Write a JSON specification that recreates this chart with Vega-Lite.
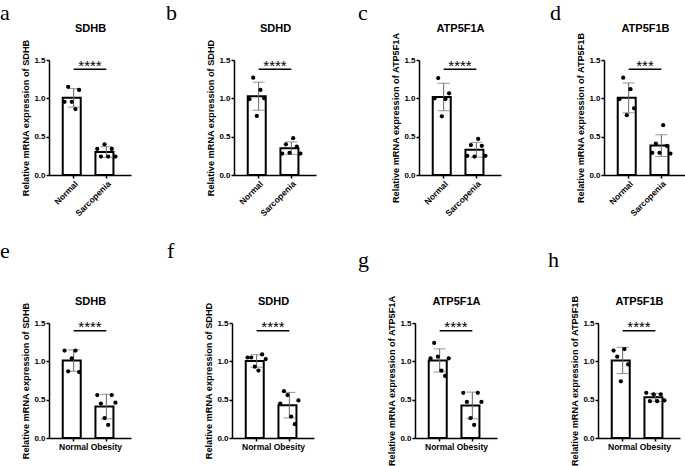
{
  "$schema": "https://vega.github.io/schema/vega-lite/v6.json",
  "padding": {"left": 0, "top": 2, "right": 0, "bottom": 0},
  "datasets": {
    "pts": [
      {"panel":"a","group":"Normal","rep":1,"value":0.955},
      {"panel":"a","group":"Normal","rep":2,"value":1.15},
      {"panel":"a","group":"Normal","rep":3,"value":0.955},
      {"panel":"a","group":"Normal","rep":4,"value":0.86},
      {"panel":"a","group":"Normal","rep":5,"value":1.11},
      {"panel":"a","group":"Sarcopenia","rep":1,"value":0.34},
      {"panel":"a","group":"Sarcopenia","rep":2,"value":0.24},
      {"panel":"a","group":"Sarcopenia","rep":3,"value":0.40},
      {"panel":"a","group":"Sarcopenia","rep":4,"value":0.24},
      {"panel":"a","group":"Sarcopenia","rep":5,"value":0.34},
      {"panel":"a","group":"Sarcopenia","rep":6,"value":0.24},
      {"panel":"b","group":"Normal","rep":1,"value":0.99},
      {"panel":"b","group":"Normal","rep":2,"value":1.27},
      {"panel":"b","group":"Normal","rep":3,"value":0.77},
      {"panel":"b","group":"Normal","rep":4,"value":1.11},
      {"panel":"b","group":"Normal","rep":5,"value":1.0},
      {"panel":"b","group":"Sarcopenia","rep":1,"value":0.28},
      {"panel":"b","group":"Sarcopenia","rep":2,"value":0.40},
      {"panel":"b","group":"Sarcopenia","rep":3,"value":0.29},
      {"panel":"b","group":"Sarcopenia","rep":4,"value":0.48},
      {"panel":"b","group":"Sarcopenia","rep":5,"value":0.37},
      {"panel":"b","group":"Sarcopenia","rep":6,"value":0.28},
      {"panel":"c","group":"Normal","rep":1,"value":1.0},
      {"panel":"c","group":"Normal","rep":2,"value":1.265},
      {"panel":"c","group":"Normal","rep":3,"value":0.765},
      {"panel":"c","group":"Normal","rep":4,"value":0.99},
      {"panel":"c","group":"Normal","rep":5,"value":1.065},
      {"panel":"c","group":"Sarcopenia","rep":1,"value":0.25},
      {"panel":"c","group":"Sarcopenia","rep":2,"value":0.39},
      {"panel":"c","group":"Sarcopenia","rep":3,"value":0.24},
      {"panel":"c","group":"Sarcopenia","rep":4,"value":0.47},
      {"panel":"c","group":"Sarcopenia","rep":5,"value":0.38},
      {"panel":"c","group":"Sarcopenia","rep":6,"value":0.25},
      {"panel":"d","group":"Normal","rep":1,"value":0.99},
      {"panel":"d","group":"Normal","rep":2,"value":1.27},
      {"panel":"d","group":"Normal","rep":3,"value":0.78},
      {"panel":"d","group":"Normal","rep":4,"value":1.12},
      {"panel":"d","group":"Normal","rep":5,"value":0.87},
      {"panel":"d","group":"Sarcopenia","rep":1,"value":0.29},
      {"panel":"d","group":"Sarcopenia","rep":2,"value":0.41},
      {"panel":"d","group":"Sarcopenia","rep":3,"value":0.29},
      {"panel":"d","group":"Sarcopenia","rep":4,"value":0.65},
      {"panel":"d","group":"Sarcopenia","rep":5,"value":0.38},
      {"panel":"d","group":"Sarcopenia","rep":6,"value":0.28},
      {"panel":"e","group":"Normal","rep":1,"value":1.14},
      {"panel":"e","group":"Normal","rep":2,"value":0.87},
      {"panel":"e","group":"Normal","rep":3,"value":1.04},
      {"panel":"e","group":"Normal","rep":4,"value":1.14},
      {"panel":"e","group":"Normal","rep":5,"value":0.86},
      {"panel":"e","group":"Obesity","rep":1,"value":0.56},
      {"panel":"e","group":"Obesity","rep":2,"value":0.45},
      {"panel":"e","group":"Obesity","rep":3,"value":0.26},
      {"panel":"e","group":"Obesity","rep":4,"value":0.17},
      {"panel":"e","group":"Obesity","rep":5,"value":0.56},
      {"panel":"e","group":"Obesity","rep":6,"value":0.46},
      {"panel":"f","group":"Normal","rep":1,"value":1.05},
      {"panel":"f","group":"Normal","rep":2,"value":1.05},
      {"panel":"f","group":"Normal","rep":3,"value":0.93},
      {"panel":"f","group":"Normal","rep":4,"value":0.88},
      {"panel":"f","group":"Normal","rep":5,"value":1.09},
      {"panel":"f","group":"Normal","rep":6,"value":1.03},
      {"panel":"f","group":"Obesity","rep":1,"value":0.45},
      {"panel":"f","group":"Obesity","rep":2,"value":0.61},
      {"panel":"f","group":"Obesity","rep":3,"value":0.56},
      {"panel":"f","group":"Obesity","rep":4,"value":0.28},
      {"panel":"f","group":"Obesity","rep":5,"value":0.18},
      {"panel":"f","group":"Obesity","rep":6,"value":0.49},
      {"panel":"g","group":"Normal","rep":1,"value":1.04},
      {"panel":"g","group":"Normal","rep":2,"value":1.24},
      {"panel":"g","group":"Normal","rep":3,"value":1.06},
      {"panel":"g","group":"Normal","rep":4,"value":0.88},
      {"panel":"g","group":"Normal","rep":5,"value":0.81},
      {"panel":"g","group":"Normal","rep":6,"value":1.04},
      {"panel":"g","group":"Obesity","rep":1,"value":0.59},
      {"panel":"g","group":"Obesity","rep":2,"value":0.47},
      {"panel":"g","group":"Obesity","rep":3,"value":0.26},
      {"panel":"g","group":"Obesity","rep":4,"value":0.17},
      {"panel":"g","group":"Obesity","rep":5,"value":0.59},
      {"panel":"g","group":"Obesity","rep":6,"value":0.47},
      {"panel":"h","group":"Normal","rep":1,"value":1.14},
      {"panel":"h","group":"Normal","rep":2,"value":1.06},
      {"panel":"h","group":"Normal","rep":3,"value":0.74},
      {"panel":"h","group":"Normal","rep":4,"value":1.16},
      {"panel":"h","group":"Normal","rep":5,"value":0.96},
      {"panel":"h","group":"Obesity","rep":1,"value":0.59},
      {"panel":"h","group":"Obesity","rep":2,"value":0.48},
      {"panel":"h","group":"Obesity","rep":3,"value":0.57},
      {"panel":"h","group":"Obesity","rep":4,"value":0.48},
      {"panel":"h","group":"Obesity","rep":5,"value":0.57},
      {"panel":"h","group":"Obesity","rep":6,"value":0.49}
    ]
  },
  "config": {
    "view": {"stroke": null},
    "font": "Liberation Sans",
    "axis": {"domainColor": "black", "domainWidth": 1.5, "tickColor": "black", "tickWidth": 1.5, "tickSize": 3, "labelFont": "Liberation Sans", "labelFontSize": 8, "labelFontWeight": "bold", "labelColor": "black", "titleFont": "Liberation Sans", "titleFontSize": 9.2, "titleFontWeight": "bold", "titleColor": "black", "grid": false, "labelPadding": 1, "titlePadding": 3},
    "axisY": {"tickCount": 8},
    "axisX": {"labelFontSize": 8.5},
    "title": {"font": "Liberation Serif", "fontSize": 22, "fontWeight": "normal", "color": "black", "anchor": "start", "frame": "group", "baseline": "alphabetic"}
  },
  "bounds": "flush",
  "spacing": 263,
  "vconcat": [
    {"bounds": "flush", "spacing": 103, "hconcat": [
      {"width": 82, "height": 115, "title": {"text": "a", "dx": -49, "offset": -3},
       "data": {"name": "pts"}, "transform": [{"filter": "datum.panel === 'a'"}],
       "resolve": {"axis": {"x": "independent"}},
       "layer": [
         {"mark": {"type": "bar", "fill": "white", "stroke": "black", "strokeWidth": 2}, "encoding": {"x": {"field": "group", "type": "nominal", "scale": {"domain": ["Normal", "Sarcopenia"], "paddingInner": 0.333, "paddingOuter": 0.42}, "axis": {"title": null, "labelAngle": -45}}, "y": {"aggregate": "mean", "field": "value", "type": "quantitative", "title": "Relative mRNA expression of SDHB", "scale": {"domain": [0, 1.5], "nice": false}, "axis": {"values": [0, 0.5, 1, 1.5], "format": ".1f", "tickCount": 8}}}},
         {"mark": {"type": "errorbar", "extent": "stdev", "ticks": {"size": 12}, "color": "#666"}, "encoding": {"x": {"field": "group", "type": "nominal", "axis": null}, "y": {"field": "value", "type": "quantitative", "title": "Relative mRNA expression of SDHB", "axis": {"values": [0, 0.5, 1, 1.5], "format": ".1f", "tickCount": 8}}}},
         {"mark": {"type": "circle", "size": 18, "color": "black", "opacity": 1}, "encoding": {"x": {"field": "group", "type": "nominal", "axis": {"orient": "top", "title": "SDHB", "labels": false, "ticks": false, "domain": false, "titlePadding": 27, "titleFontSize": 11}}, "xOffset": {"field": "rep", "type": "nominal", "scale": {"domain": [1, 2, 3, 4, 5, 6]}}, "y": {"field": "value", "type": "quantitative", "title": "Relative mRNA expression of SDHB", "axis": {"values": [0, 0.5, 1, 1.5], "format": ".1f", "tickCount": 8}}}},
         {"data": {"values": [{}]}, "mark": {"type": "rule", "strokeWidth": 1.5, "color": "black"}, "encoding": {"x": {"datum": "Normal", "axis": null}, "x2": {"datum": "Sarcopenia"}, "y": {"datum": 1.38}}},
         {"data": {"values": [{}]}, "mark": {"type": "text", "text": "****", "fontSize": 15, "baseline": "alphabetic"}, "encoding": {"x": {"datum": "Normal", "bandPosition": 1.25, "axis": null}, "y": {"datum": 1.36}}}
       ]},
      {"width": 82, "height": 115, "title": {"text": "b", "dx": -68, "offset": -3},
       "data": {"name": "pts"}, "transform": [{"filter": "datum.panel === 'b'"}],
       "resolve": {"axis": {"x": "independent"}},
       "layer": [
         {"mark": {"type": "bar", "fill": "white", "stroke": "black", "strokeWidth": 2}, "encoding": {"x": {"field": "group", "type": "nominal", "scale": {"domain": ["Normal", "Sarcopenia"], "paddingInner": 0.333, "paddingOuter": 0.42}, "axis": {"title": null, "labelAngle": -45}}, "y": {"aggregate": "mean", "field": "value", "type": "quantitative", "title": "Relative mRNA expression of SDHD", "scale": {"domain": [0, 1.5], "nice": false}, "axis": {"values": [0, 0.5, 1, 1.5], "format": ".1f", "tickCount": 8}}}},
         {"mark": {"type": "errorbar", "extent": "stdev", "ticks": {"size": 12}, "color": "#666"}, "encoding": {"x": {"field": "group", "type": "nominal", "axis": null}, "y": {"field": "value", "type": "quantitative", "title": "Relative mRNA expression of SDHD", "axis": {"values": [0, 0.5, 1, 1.5], "format": ".1f", "tickCount": 8}}}},
         {"mark": {"type": "circle", "size": 18, "color": "black", "opacity": 1}, "encoding": {"x": {"field": "group", "type": "nominal", "axis": {"orient": "top", "title": "SDHD", "labels": false, "ticks": false, "domain": false, "titlePadding": 27, "titleFontSize": 11}}, "xOffset": {"field": "rep", "type": "nominal", "scale": {"domain": [1, 2, 3, 4, 5, 6]}}, "y": {"field": "value", "type": "quantitative", "title": "Relative mRNA expression of SDHD", "axis": {"values": [0, 0.5, 1, 1.5], "format": ".1f", "tickCount": 8}}}},
         {"data": {"values": [{}]}, "mark": {"type": "rule", "strokeWidth": 1.5, "color": "black"}, "encoding": {"x": {"datum": "Normal", "axis": null}, "x2": {"datum": "Sarcopenia"}, "y": {"datum": 1.38}}},
         {"data": {"values": [{}]}, "mark": {"type": "text", "text": "****", "fontSize": 15, "baseline": "alphabetic"}, "encoding": {"x": {"datum": "Normal", "bandPosition": 1.25, "axis": null}, "y": {"datum": 1.36}}}
       ]},
      {"width": 82, "height": 115, "title": {"text": "c", "dx": -61, "offset": -3},
       "data": {"name": "pts"}, "transform": [{"filter": "datum.panel === 'c'"}],
       "resolve": {"axis": {"x": "independent"}},
       "layer": [
         {"mark": {"type": "bar", "fill": "white", "stroke": "black", "strokeWidth": 2}, "encoding": {"x": {"field": "group", "type": "nominal", "scale": {"domain": ["Normal", "Sarcopenia"], "paddingInner": 0.333, "paddingOuter": 0.42}, "axis": {"title": null, "labelAngle": -45}}, "y": {"aggregate": "mean", "field": "value", "type": "quantitative", "title": "Relative mRNA expression of ATP5F1A", "scale": {"domain": [0, 1.5], "nice": false}, "axis": {"values": [0, 0.5, 1, 1.5], "format": ".1f", "tickCount": 8}}}},
         {"mark": {"type": "errorbar", "extent": "stdev", "ticks": {"size": 12}, "color": "#666"}, "encoding": {"x": {"field": "group", "type": "nominal", "axis": null}, "y": {"field": "value", "type": "quantitative", "title": "Relative mRNA expression of ATP5F1A", "axis": {"values": [0, 0.5, 1, 1.5], "format": ".1f", "tickCount": 8}}}},
         {"mark": {"type": "circle", "size": 18, "color": "black", "opacity": 1}, "encoding": {"x": {"field": "group", "type": "nominal", "axis": {"orient": "top", "title": "ATP5F1A", "labels": false, "ticks": false, "domain": false, "titlePadding": 27, "titleFontSize": 11}}, "xOffset": {"field": "rep", "type": "nominal", "scale": {"domain": [1, 2, 3, 4, 5, 6]}}, "y": {"field": "value", "type": "quantitative", "title": "Relative mRNA expression of ATP5F1A", "axis": {"values": [0, 0.5, 1, 1.5], "format": ".1f", "tickCount": 8}}}},
         {"data": {"values": [{}]}, "mark": {"type": "rule", "strokeWidth": 1.5, "color": "black"}, "encoding": {"x": {"datum": "Normal", "axis": null}, "x2": {"datum": "Sarcopenia"}, "y": {"datum": 1.38}}},
         {"data": {"values": [{}]}, "mark": {"type": "text", "text": "****", "fontSize": 15, "baseline": "alphabetic"}, "encoding": {"x": {"datum": "Normal", "bandPosition": 1.25, "axis": null}, "y": {"datum": 1.36}}}
       ]},
      {"width": 82, "height": 115, "title": {"text": "d", "dx": -54, "offset": -3},
       "data": {"name": "pts"}, "transform": [{"filter": "datum.panel === 'd'"}],
       "resolve": {"axis": {"x": "independent"}},
       "layer": [
         {"mark": {"type": "bar", "fill": "white", "stroke": "black", "strokeWidth": 2}, "encoding": {"x": {"field": "group", "type": "nominal", "scale": {"domain": ["Normal", "Sarcopenia"], "paddingInner": 0.333, "paddingOuter": 0.42}, "axis": {"title": null, "labelAngle": -45}}, "y": {"aggregate": "mean", "field": "value", "type": "quantitative", "title": "Relative mRNA expression of ATP5F1B", "scale": {"domain": [0, 1.5], "nice": false}, "axis": {"values": [0, 0.5, 1, 1.5], "format": ".1f", "tickCount": 8}}}},
         {"mark": {"type": "errorbar", "extent": "stdev", "ticks": {"size": 12}, "color": "#666"}, "encoding": {"x": {"field": "group", "type": "nominal", "axis": null}, "y": {"field": "value", "type": "quantitative", "title": "Relative mRNA expression of ATP5F1B", "axis": {"values": [0, 0.5, 1, 1.5], "format": ".1f", "tickCount": 8}}}},
         {"mark": {"type": "circle", "size": 18, "color": "black", "opacity": 1}, "encoding": {"x": {"field": "group", "type": "nominal", "axis": {"orient": "top", "title": "ATP5F1B", "labels": false, "ticks": false, "domain": false, "titlePadding": 27, "titleFontSize": 11}}, "xOffset": {"field": "rep", "type": "nominal", "scale": {"domain": [1, 2, 3, 4, 5, 6]}}, "y": {"field": "value", "type": "quantitative", "title": "Relative mRNA expression of ATP5F1B", "axis": {"values": [0, 0.5, 1, 1.5], "format": ".1f", "tickCount": 8}}}},
         {"data": {"values": [{}]}, "mark": {"type": "rule", "strokeWidth": 1.5, "color": "black"}, "encoding": {"x": {"datum": "Normal", "axis": null}, "x2": {"datum": "Sarcopenia"}, "y": {"datum": 1.38}}},
         {"data": {"values": [{}]}, "mark": {"type": "text", "text": "***", "fontSize": 15, "baseline": "alphabetic"}, "encoding": {"x": {"datum": "Normal", "bandPosition": 1.25, "axis": null}, "y": {"datum": 1.36}}}
       ]}
    ]},
    {"bounds": "flush", "spacing": 101, "hconcat": [
      {"width": 82, "height": 115, "title": {"text": "e", "dx": -49, "offset": 32},
       "data": {"name": "pts"}, "transform": [{"filter": "datum.panel === 'e'"}],
       "resolve": {"axis": {"x": "independent"}},
       "layer": [
         {"mark": {"type": "bar", "fill": "white", "stroke": "black", "strokeWidth": 2}, "encoding": {"x": {"field": "group", "type": "nominal", "scale": {"domain": ["Normal", "Obesity"], "paddingInner": 0.333, "paddingOuter": 0.42}, "axis": {"title": null, "labelAngle": 0}}, "y": {"aggregate": "mean", "field": "value", "type": "quantitative", "title": "Relative mRNA expression of SDHB", "scale": {"domain": [0, 1.5], "nice": false}, "axis": {"values": [0, 0.5, 1, 1.5], "format": ".1f", "tickCount": 8}}}},
         {"mark": {"type": "errorbar", "extent": "stdev", "ticks": {"size": 12}, "color": "#666"}, "encoding": {"x": {"field": "group", "type": "nominal", "axis": null}, "y": {"field": "value", "type": "quantitative", "title": "Relative mRNA expression of SDHB", "axis": {"values": [0, 0.5, 1, 1.5], "format": ".1f", "tickCount": 8}}}},
         {"mark": {"type": "circle", "size": 18, "color": "black", "opacity": 1}, "encoding": {"x": {"field": "group", "type": "nominal", "axis": {"orient": "top", "title": "SDHB", "labels": false, "ticks": false, "domain": false, "titlePadding": 17, "titleFontSize": 11}}, "xOffset": {"field": "rep", "type": "nominal", "scale": {"domain": [1, 2, 3, 4, 5, 6]}}, "y": {"field": "value", "type": "quantitative", "title": "Relative mRNA expression of SDHB", "axis": {"values": [0, 0.5, 1, 1.5], "format": ".1f", "tickCount": 8}}}},
         {"data": {"values": [{}]}, "mark": {"type": "rule", "strokeWidth": 1.5, "color": "black"}, "encoding": {"x": {"datum": "Normal", "axis": null}, "x2": {"datum": "Obesity"}, "y": {"datum": 1.4}}},
         {"data": {"values": [{}]}, "mark": {"type": "text", "text": "****", "fontSize": 15, "baseline": "alphabetic"}, "encoding": {"x": {"datum": "Normal", "bandPosition": 1.25, "axis": null}, "y": {"datum": 1.38}}}
       ]},
      {"width": 82, "height": 115, "title": {"text": "f", "dx": -65, "offset": 32},
       "data": {"name": "pts"}, "transform": [{"filter": "datum.panel === 'f'"}],
       "resolve": {"axis": {"x": "independent"}},
       "layer": [
         {"mark": {"type": "bar", "fill": "white", "stroke": "black", "strokeWidth": 2}, "encoding": {"x": {"field": "group", "type": "nominal", "scale": {"domain": ["Normal", "Obesity"], "paddingInner": 0.333, "paddingOuter": 0.42}, "axis": {"title": null, "labelAngle": 0}}, "y": {"aggregate": "mean", "field": "value", "type": "quantitative", "title": "Relative mRNA expression of SDHD", "scale": {"domain": [0, 1.5], "nice": false}, "axis": {"values": [0, 0.5, 1, 1.5], "format": ".1f", "tickCount": 8}}}},
         {"mark": {"type": "errorbar", "extent": "stdev", "ticks": {"size": 12}, "color": "#666"}, "encoding": {"x": {"field": "group", "type": "nominal", "axis": null}, "y": {"field": "value", "type": "quantitative", "title": "Relative mRNA expression of SDHD", "axis": {"values": [0, 0.5, 1, 1.5], "format": ".1f", "tickCount": 8}}}},
         {"mark": {"type": "circle", "size": 18, "color": "black", "opacity": 1}, "encoding": {"x": {"field": "group", "type": "nominal", "axis": {"orient": "top", "title": "SDHD", "labels": false, "ticks": false, "domain": false, "titlePadding": 17, "titleFontSize": 11}}, "xOffset": {"field": "rep", "type": "nominal", "scale": {"domain": [1, 2, 3, 4, 5, 6]}}, "y": {"field": "value", "type": "quantitative", "title": "Relative mRNA expression of SDHD", "axis": {"values": [0, 0.5, 1, 1.5], "format": ".1f", "tickCount": 8}}}},
         {"data": {"values": [{}]}, "mark": {"type": "rule", "strokeWidth": 1.5, "color": "black"}, "encoding": {"x": {"datum": "Normal", "axis": null}, "x2": {"datum": "Obesity"}, "y": {"datum": 1.4}}},
         {"data": {"values": [{}]}, "mark": {"type": "text", "text": "****", "fontSize": 15, "baseline": "alphabetic"}, "encoding": {"x": {"datum": "Normal", "bandPosition": 1.25, "axis": null}, "y": {"datum": 1.38}}}
       ]},
      {"width": 82, "height": 115, "title": {"text": "g", "dx": -57, "offset": 23},
       "data": {"name": "pts"}, "transform": [{"filter": "datum.panel === 'g'"}],
       "resolve": {"axis": {"x": "independent"}},
       "layer": [
         {"mark": {"type": "bar", "fill": "white", "stroke": "black", "strokeWidth": 2}, "encoding": {"x": {"field": "group", "type": "nominal", "scale": {"domain": ["Normal", "Obesity"], "paddingInner": 0.333, "paddingOuter": 0.42}, "axis": {"title": null, "labelAngle": 0}}, "y": {"aggregate": "mean", "field": "value", "type": "quantitative", "title": "Relative mRNA expression of ATP5F1A", "scale": {"domain": [0, 1.5], "nice": false}, "axis": {"values": [0, 0.5, 1, 1.5], "format": ".1f", "tickCount": 8}}}},
         {"mark": {"type": "errorbar", "extent": "stdev", "ticks": {"size": 12}, "color": "#666"}, "encoding": {"x": {"field": "group", "type": "nominal", "axis": null}, "y": {"field": "value", "type": "quantitative", "title": "Relative mRNA expression of ATP5F1A", "axis": {"values": [0, 0.5, 1, 1.5], "format": ".1f", "tickCount": 8}}}},
         {"mark": {"type": "circle", "size": 18, "color": "black", "opacity": 1}, "encoding": {"x": {"field": "group", "type": "nominal", "axis": {"orient": "top", "title": "ATP5F1A", "labels": false, "ticks": false, "domain": false, "titlePadding": 17, "titleFontSize": 11}}, "xOffset": {"field": "rep", "type": "nominal", "scale": {"domain": [1, 2, 3, 4, 5, 6]}}, "y": {"field": "value", "type": "quantitative", "title": "Relative mRNA expression of ATP5F1A", "axis": {"values": [0, 0.5, 1, 1.5], "format": ".1f", "tickCount": 8}}}},
         {"data": {"values": [{}]}, "mark": {"type": "rule", "strokeWidth": 1.5, "color": "black"}, "encoding": {"x": {"datum": "Normal", "axis": null}, "x2": {"datum": "Obesity"}, "y": {"datum": 1.4}}},
         {"data": {"values": [{}]}, "mark": {"type": "text", "text": "****", "fontSize": 15, "baseline": "alphabetic"}, "encoding": {"x": {"datum": "Normal", "bandPosition": 1.25, "axis": null}, "y": {"datum": 1.38}}}
       ]},
      {"width": 82, "height": 115, "title": {"text": "h", "dx": -50, "offset": 23},
       "data": {"name": "pts"}, "transform": [{"filter": "datum.panel === 'h'"}],
       "resolve": {"axis": {"x": "independent"}},
       "layer": [
         {"mark": {"type": "bar", "fill": "white", "stroke": "black", "strokeWidth": 2}, "encoding": {"x": {"field": "group", "type": "nominal", "scale": {"domain": ["Normal", "Obesity"], "paddingInner": 0.333, "paddingOuter": 0.42}, "axis": {"title": null, "labelAngle": 0}}, "y": {"aggregate": "mean", "field": "value", "type": "quantitative", "title": "Relative mRNA expression of ATP5F1B", "scale": {"domain": [0, 1.5], "nice": false}, "axis": {"values": [0, 0.5, 1, 1.5], "format": ".1f", "tickCount": 8}}}},
         {"mark": {"type": "errorbar", "extent": "stdev", "ticks": {"size": 12}, "color": "#666"}, "encoding": {"x": {"field": "group", "type": "nominal", "axis": null}, "y": {"field": "value", "type": "quantitative", "title": "Relative mRNA expression of ATP5F1B", "axis": {"values": [0, 0.5, 1, 1.5], "format": ".1f", "tickCount": 8}}}},
         {"mark": {"type": "circle", "size": 18, "color": "black", "opacity": 1}, "encoding": {"x": {"field": "group", "type": "nominal", "axis": {"orient": "top", "title": "ATP5F1B", "labels": false, "ticks": false, "domain": false, "titlePadding": 17, "titleFontSize": 11}}, "xOffset": {"field": "rep", "type": "nominal", "scale": {"domain": [1, 2, 3, 4, 5, 6]}}, "y": {"field": "value", "type": "quantitative", "title": "Relative mRNA expression of ATP5F1B", "axis": {"values": [0, 0.5, 1, 1.5], "format": ".1f", "tickCount": 8}}}},
         {"data": {"values": [{}]}, "mark": {"type": "rule", "strokeWidth": 1.5, "color": "black"}, "encoding": {"x": {"datum": "Normal", "axis": null}, "x2": {"datum": "Obesity"}, "y": {"datum": 1.4}}},
         {"data": {"values": [{}]}, "mark": {"type": "text", "text": "****", "fontSize": 15, "baseline": "alphabetic"}, "encoding": {"x": {"datum": "Normal", "bandPosition": 1.25, "axis": null}, "y": {"datum": 1.38}}}
       ]}
    ]}
  ]
}
